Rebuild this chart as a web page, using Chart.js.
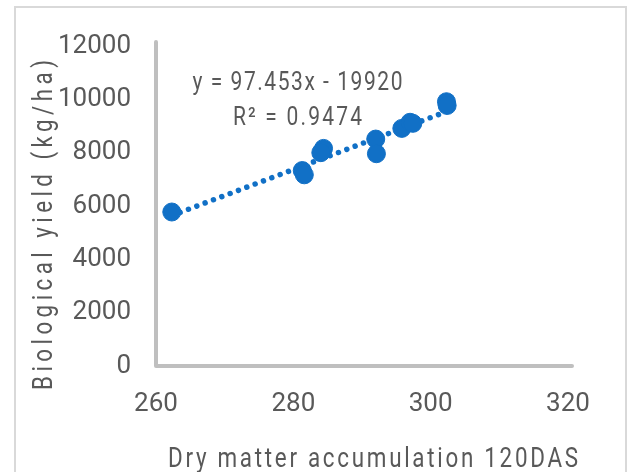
<!DOCTYPE html>
<html>
<head>
<meta charset="utf-8">
<script src="https://cdn.jsdelivr.net/npm/chart.js@4.4.1/dist/chart.umd.min.js"></script>
<style>
  html, body { margin: 0; padding: 0; background: #ffffff; }
  #wrap { position: relative; width: 629px; height: 472px; }
</style>
</head>
<body>
<div id="wrap"><canvas id="c" width="629" height="472"></canvas></div>
<script>
// Dry matter accumulation at 120 DAS vs. biological yield
const dryMatter = [262.3, 281.3, 281.6, 284.4, 284.0, 292.0, 292.1, 295.8, 297.0, 297.4, 302.3, 302.4];
const bioYield  = [5775, 7330, 7170, 8160, 8000, 8510, 7960, 8910, 9140, 9100, 9910, 9770];

// Linear trendline: y = slope * x + intercept
const slope = 97.453;
const intercept = -19920;
const rSquared = 0.9474;

const xTicks = [260, 280, 300, 320];
const yTicks = [0, 2000, 4000, 6000, 8000, 10000, 12000];

const xTitle = 'Dry matter accumulation 120DAS';
const yTitle = 'Biological yield (kg/ha)';
const eqText = 'y = ' + slope + 'x - ' + Math.abs(intercept);
const r2Text = 'R² = ' + rSquared.toFixed(4);
// label anchors (baseline centre) in data units
const eqAnchor = { x: 280.6, y: 10350 };
const r2Anchor = { x: 280.6, y: 9020 };

const BLUE = '#1170c6';
const TEXT = '#595959';
const AXIS = '#bfbfbf';
const FONT = "Roboto, 'Liberation Sans', sans-serif";

const points = dryMatter.map((x, i) => ({ x: x, y: bioYield[i] }));
const xMin = Math.min(...dryMatter), xMax = Math.max(...dryMatter);
const trend = [xMin, xMax].map(x => ({ x: x, y: slope * x + intercept }));

// narrow, tracked text centred on (cx, y) spanning `width` px
function drawTracked(ctx, text, cx, y, width, squeeze) {
  ctx.save();
  ctx.translate(cx, y);
  ctx.scale(squeeze, 1);
  ctx.letterSpacing = '0px';
  const w0 = ctx.measureText(text).width;
  const n = [...text].length;
  const inner = width / squeeze;
  const sp = Math.max(0, (inner - w0) / (n - 1));
  ctx.letterSpacing = sp + 'px';
  ctx.textAlign = 'left';
  ctx.fillText(text, -inner / 2, 0);
  ctx.restore();
}

const decor = {
  id: 'decor',
  beforeDraw(chart) {
    const ctx = chart.ctx;
    ctx.save();
    ctx.fillStyle = '#ffffff';
    ctx.fillRect(0, 0, chart.width, chart.height);
    ctx.strokeStyle = '#d9d9d9';
    ctx.lineWidth = 2;
    ctx.beginPath();
    ctx.moveTo(15, chart.height + 5);
    ctx.lineTo(15, 7);
    ctx.lineTo(626, 7);
    ctx.lineTo(626, chart.height + 5);
    ctx.stroke();
    ctx.restore();
  },
  beforeDatasetsDraw(chart) {
    const ctx = chart.ctx;
    const a = chart.chartArea;
    ctx.save();
    ctx.strokeStyle = AXIS;
    ctx.lineWidth = 4;
    ctx.lineCap = 'round';
    ctx.lineJoin = 'round';
    ctx.beginPath();
    ctx.moveTo(a.left, a.top - 4);
    ctx.lineTo(a.left, a.bottom);
    ctx.lineTo(a.right + 4, a.bottom);
    ctx.stroke();
    ctx.restore();
  },
  afterDraw(chart) {
    const ctx = chart.ctx;
    const a = chart.chartArea;
    const xs = chart.scales.x, ys = chart.scales.y;
    ctx.save();
    ctx.fillStyle = TEXT;
    ctx.textBaseline = 'alphabetic';

    // trendline equation
    ctx.font = '25px ' + FONT;
    drawTracked(ctx, eqText, xs.getPixelForValue(eqAnchor.x), ys.getPixelForValue(eqAnchor.y), 210, 0.84);
    drawTracked(ctx, r2Text, xs.getPixelForValue(r2Anchor.x), ys.getPixelForValue(r2Anchor.y), 129, 0.84);

    // axis titles
    ctx.font = '28px ' + FONT;
    drawTracked(ctx, xTitle, a.left + (a.right - a.left) / 2 + 11, 467, 410, 0.8);

    ctx.translate(52, a.top + (a.bottom - a.top) / 2 + 19);
    ctx.rotate(-Math.PI / 2);
    drawTracked(ctx, yTitle, 0, 0, 330, 0.8);
    ctx.restore();
  }
};

new Chart(document.getElementById('c'), {
  type: 'scatter',
  data: {
    datasets: [
      {
        label: 'Biological yield',
        data: points,
        backgroundColor: BLUE,
        borderColor: BLUE,
        borderWidth: 1,
        pointRadius: 9,
        pointHoverRadius: 9,
        order: 1
      },
      {
        label: 'Linear trend',
        type: 'line',
        data: trend,
        showLine: true,
        borderColor: BLUE,
        borderWidth: 5.5,
        borderDash: [0.01, 8.9],
        borderCapStyle: 'round',
        pointRadius: 0,
        fill: false,
        order: 2
      }
    ]
  },
  options: {
    responsive: false,
    animation: false,
    devicePixelRatio: 1,
    layout: { padding: { top: 46, right: 61, left: 0, bottom: 0 } },
    plugins: {
      legend: { display: false },
      tooltip: { enabled: false },
      title: { display: false }
    },
    scales: {
      x: {
        type: 'linear',
        min: xTicks[0],
        max: xTicks[xTicks.length - 1],
        afterBuildTicks: s => { s.ticks = xTicks.map(v => ({ value: v })); },
        afterFit: s => { s.height = 106; },
        grid: { display: false, drawTicks: false },
        border: { display: false },
        ticks: {
          color: TEXT,
          padding: 23,
          font: { family: FONT, size: 26 },
          maxRotation: 0
        }
      },
      y: {
        type: 'linear',
        min: yTicks[0],
        max: yTicks[yTicks.length - 1],
        afterBuildTicks: s => { s.ticks = yTicks.map(v => ({ value: v })); },
        afterFit: s => { s.width = 156; },
        grid: { display: false, drawTicks: false },
        border: { display: false },
        ticks: {
          color: TEXT,
          padding: 25,
          font: { family: FONT, size: 26 },
          callback: v => String(v)
        }
      }
    }
  },
  plugins: [decor]
});
</script>
</body>
</html>
